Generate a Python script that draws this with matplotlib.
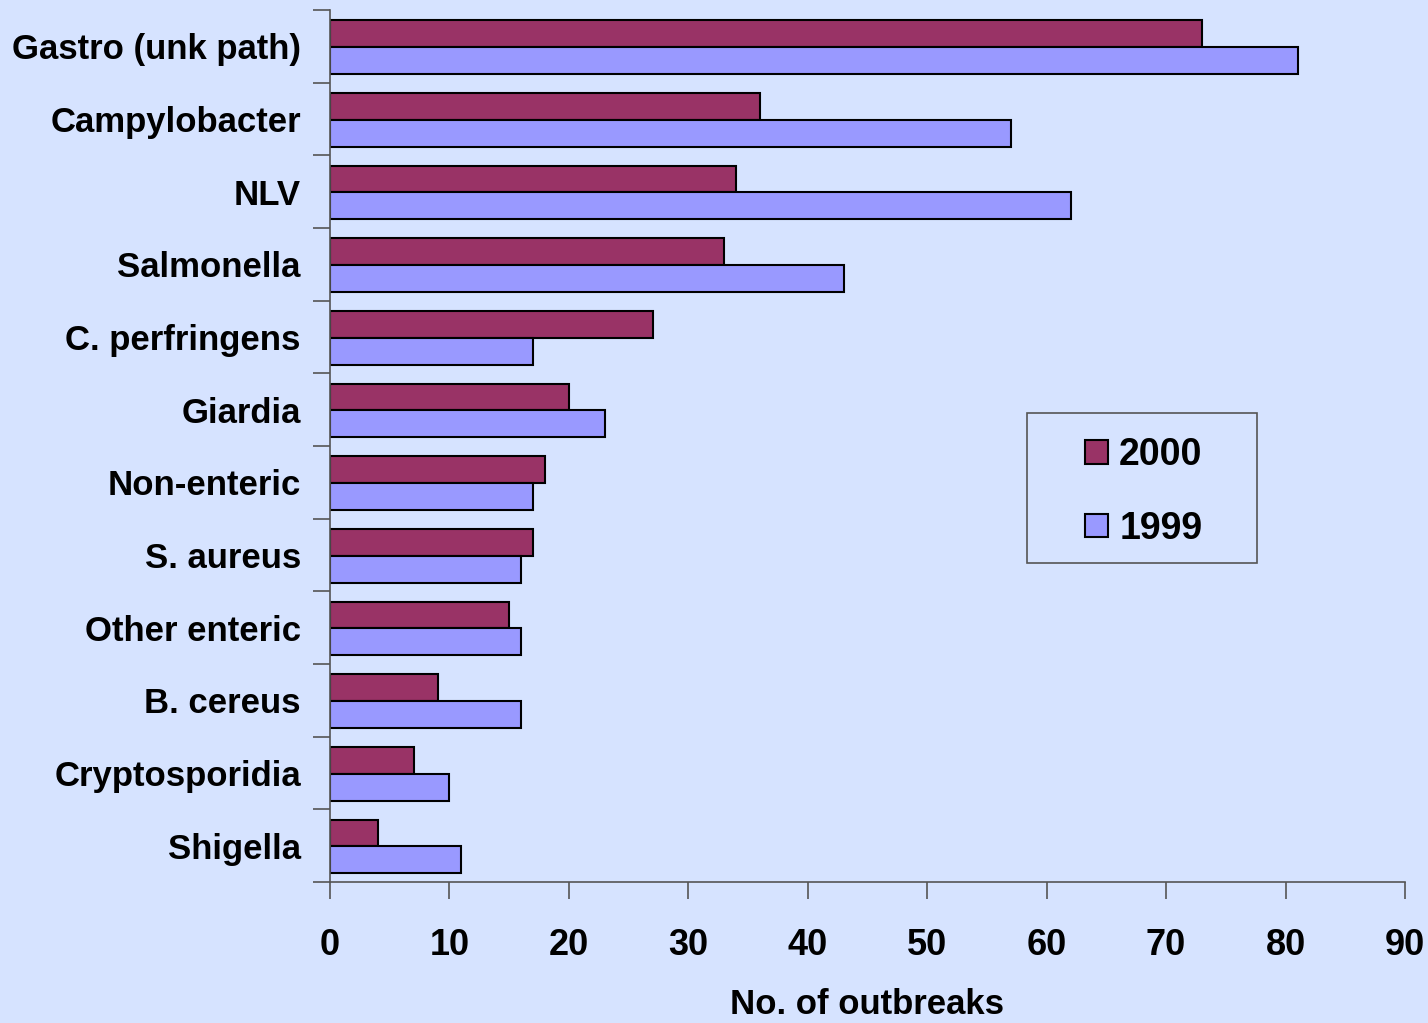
import numpy as np
import matplotlib
matplotlib.use("Agg")
import matplotlib.pyplot as plt
from matplotlib.patches import Rectangle

# outbreak counts by pathogen
categories = ["Gastro (unk path)", "Campylobacter", "NLV", "Salmonella",
              "C. perfringens", "Giardia", "Non-enteric", "S. aureus",
              "Other enteric", "B. cereus", "Cryptosporidia", "Shigella"]
y2000 = [73, 36, 34, 33, 27, 20, 18, 17, 15, 9, 7, 4]
y1999 = [81, 57, 62, 43, 17, 23, 17, 16, 16, 16, 10, 11]
xticks = [0, 10, 20, 30, 40, 50, 60, 70, 80, 90]

bg = "#D6E3FF"
plt.rcParams["font.family"] = ["Liberation Sans", "DejaVu Sans"]
plt.rcParams["font.weight"] = "bold"

W, H = 1428, 1023
fig = plt.figure(figsize=(W/100, H/100), dpi=100, facecolor=bg)
ax = fig.add_axes([330/W, 1 - 882/H, 1075/W, 872/H], facecolor=bg)

pos = np.arange(len(categories))
h = 0.37
ax.barh(pos - h/2 + 0.01, y2000, height=h, color="#993366", edgecolor="black", linewidth=1.5, label="2000")
ax.barh(pos + h/2 + 0.01, y1999, height=h, color="#9999FF", edgecolor="black", linewidth=1.5, label="1999")

ax.set_ylim(len(categories) - 0.5, -0.5)
ax.set_xlim(0, 90)
ax.set_xticks(xticks)
ax.set_xticklabels([str(t) for t in xticks], fontsize=26, fontweight="bold")
ax.set_yticks(pos)
ax.set_yticklabels(categories, fontsize=25, fontweight="bold")
ax.tick_params(axis="y", length=0, pad=21)
ax.set_yticks(np.arange(len(categories) + 1) - 0.5, minor=True)
ax.tick_params(axis="y", which="minor", length=12, width=1.2, color="#555555")
ax.tick_params(axis="x", length=12, width=1.2, color="#555555", pad=21)

for s in ["top", "right"]:
    ax.spines[s].set_visible(False)
for s in ["left", "bottom"]:
    ax.spines[s].set_color("#555555")
    ax.spines[s].set_linewidth(1.2)

ax.set_xlabel("No. of outbreaks", fontsize=25, fontweight="bold", labelpad=18)

# legend box
fig.patches.append(Rectangle((1027/W, 1 - 563/H), 230/W, 150/H, transform=fig.transFigure,
                             facecolor="none", edgecolor="#555555", linewidth=1.2))
leg = fig.legend(loc="center", bbox_to_anchor=(1144/W, 1 - 492/H),
                 fontsize=27, frameon=False, handlelength=0.6,
                 handleheight=0.6, handletextpad=0.3, labelspacing=1.0,
                 borderpad=0)
for t in leg.get_texts():
    t.set_fontweight("bold")

fig.savefig("out.png", dpi=100, facecolor=bg)
